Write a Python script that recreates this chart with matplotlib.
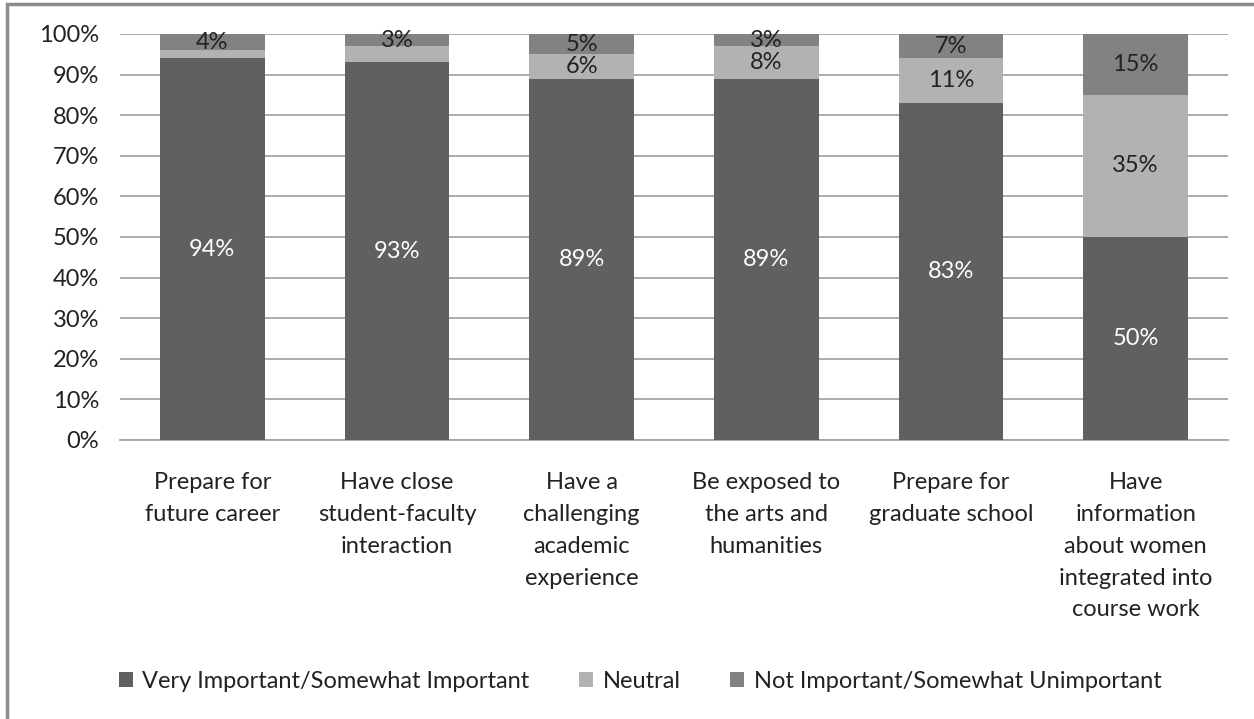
import matplotlib
matplotlib.use("Agg")
import matplotlib.pyplot as plt
from matplotlib.patches import Rectangle
import numpy as np

plt.rcParams['font.family'] = ['Lato', 'DejaVu Sans']

categories = [
    "Prepare for\nfuture career",
    "Have close\nstudent-faculty\ninteraction",
    "Have a\nchallenging\nacademic\nexperience",
    "Be exposed to\nthe arts and\nhumanities",
    "Prepare for\ngraduate school",
    "Have\ninformation\nabout women\nintegrated into\ncourse work",
]
important = [94, 93, 89, 89, 83, 50]
neutral = [2, 4, 6, 8, 11, 35]
not_important = [4, 3, 5, 3, 7, 15]

series_names = [
    "Very Important/Somewhat Important",
    "Neutral",
    "Not Important/Somewhat Unimportant",
]
colors = ["#606060", "#b2b2b2", "#828282"]
label_colors = ["white", "#222222", "#222222"]
min_labelled = [0, 5, 0]
FS_NUM = 17
FS_TXT = 17

W, H = 1254, 719
fig = plt.figure(figsize=(W / 100, H / 100), dpi=100)

# outer chart frame (left and top edges visible)
fig.patches.append(Rectangle((7 / W, -0.1), 1.2, 1 - 4 / H + 0.1,
                             transform=fig.transFigure, fill=False,
                             edgecolor="#8c8c8c", linewidth=2.5))

ax = fig.add_axes([120 / W, 1 - 440 / H, (1228 - 120) / W, (440 - 34) / H])

x = np.arange(len(categories))
width = 0.565
bottom = np.zeros(len(categories))
for vals, name, col, lc, mn in zip([important, neutral, not_important],
                                    series_names, colors, label_colors, min_labelled):
    vals = np.array(vals, dtype=float)
    ax.bar(x, vals, width, bottom=bottom, color=col, label=name, zorder=3)
    for xi, b, v in zip(x, bottom, vals):
        if v >= mn and v > 0:
            yc = min(b + v / 2, (b + 100) / 2)
            ax.text(xi, yc, f"{int(v)}%", ha="center", va="center",
                    color=lc, fontsize=FS_NUM, zorder=4)
    bottom += vals

ax.set_xlim(-0.5, len(categories) - 0.5)
ax.set_ylim(0, 100)
ax.set_yticks(np.arange(0, 101, 10))
ax.set_yticklabels([f"{t}%" for t in range(0, 101, 10)], fontsize=FS_NUM, color="#222222")
ax.yaxis.grid(True, color="#a6a6a6", linewidth=1.3, zorder=0)
ax.set_axisbelow(True)
for s in ["top", "right", "left"]:
    ax.spines[s].set_visible(False)
ax.spines["bottom"].set_color("#a6a6a6")
ax.spines["bottom"].set_linewidth(1.3)
ax.tick_params(axis="y", length=0, pad=15)
ax.tick_params(axis="x", length=0, pad=23)
ax.set_xticks(x)
ax.set_xticklabels(categories, fontsize=FS_TXT, color="#222222", linespacing=1.64, va="top")

handles, labels = ax.get_legend_handles_labels()
fig.legend(handles, labels, loc="center", bbox_to_anchor=(640 / W, 1 - 681 / H),
           ncol=3, frameon=False, fontsize=FS_TXT, handlelength=0.6, handleheight=0.6,
           handletextpad=0.4, columnspacing=2.1, labelcolor="#222222")

fig.savefig("out.png", dpi=100, facecolor="white")
